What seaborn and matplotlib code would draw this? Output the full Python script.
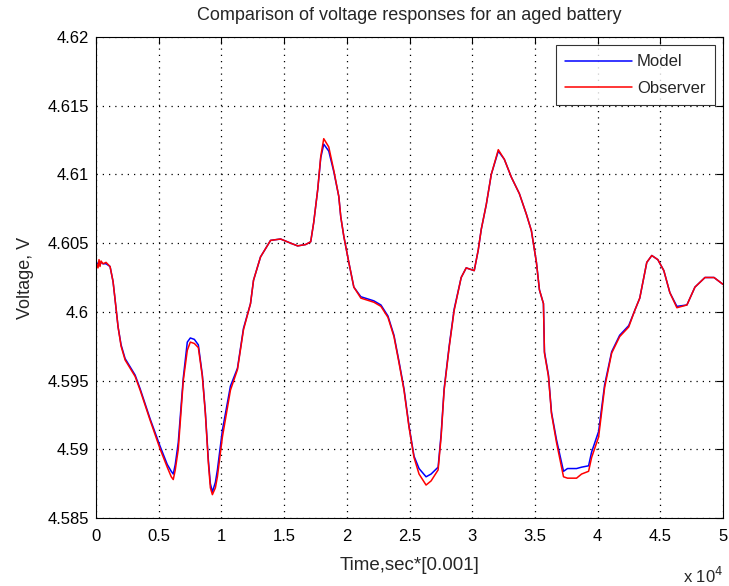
import numpy as np
import pandas as pd
import seaborn as sns
import matplotlib
matplotlib.use("Agg")
import matplotlib.pyplot as plt
from matplotlib.ticker import FuncFormatter, MultipleLocator

# Time in units of 10^4
time_x = [0.000, 0.016, 0.024, 0.032, 0.040, 0.056, 0.080, 0.112, 0.136, 0.152,
          0.176, 0.200, 0.232, 0.272, 0.312, 0.352, 0.432, 0.512, 0.568, 0.600,
          0.616, 0.632, 0.656, 0.696, 0.728, 0.752, 0.784, 0.816, 0.848, 0.872,
          0.896, 0.912, 0.928, 0.952, 0.968, 1.008, 1.072, 1.128, 1.176, 1.232,
          1.256, 1.312, 1.392, 1.472, 1.552, 1.608, 1.672, 1.712, 1.736, 1.768,
          1.792, 1.816, 1.856, 1.896, 1.936, 1.952, 1.976, 2.016, 2.056, 2.112,
          2.216, 2.272, 2.328, 2.376, 2.416, 2.456, 2.496, 2.536, 2.576, 2.632,
          2.672, 2.728, 2.752, 2.776, 2.816, 2.856, 2.912, 2.952, 3.016, 3.048,
          3.072, 3.112, 3.152, 3.208, 3.256, 3.312, 3.376, 3.432, 3.472, 3.512,
          3.536, 3.568, 3.576, 3.608, 3.632, 3.672, 3.728, 3.760, 3.832, 3.872,
          3.928, 3.952, 4.008, 4.056, 4.112, 4.176, 4.248, 4.296, 4.336, 4.392,
          4.432, 4.480, 4.528, 4.576, 4.632, 4.712, 4.776, 4.856, 4.928, 5.000]

observer_v = [4.6036, 4.6032, 4.6038, 4.6033, 4.6037, 4.6035, 4.6036, 4.6033, 4.6022, 4.6009,
              4.5989, 4.5975, 4.5965, 4.5959, 4.5953, 4.5943, 4.5921, 4.5900, 4.5887, 4.5880,
              4.5878, 4.5885, 4.5900, 4.5950, 4.5972, 4.5978, 4.5977, 4.5974, 4.5953, 4.5926,
              4.5890, 4.5872, 4.5867, 4.5872, 4.5880, 4.5909, 4.5943, 4.5958, 4.5987, 4.6006,
              4.6023, 4.6040, 4.6052, 4.6053, 4.6050, 4.6048, 4.6049, 4.6051, 4.6065, 4.6089,
              4.6113, 4.6126, 4.6120, 4.6103, 4.6084, 4.6069, 4.6055, 4.6036, 4.6018, 4.6010,
              4.6007, 4.6004, 4.5996, 4.5982, 4.5963, 4.5943, 4.5916, 4.5894, 4.5882, 4.5874,
              4.5877, 4.5885, 4.5909, 4.5943, 4.5974, 4.6001, 4.6025, 4.6032, 4.6030, 4.6045,
              4.6060, 4.6078, 4.6100, 4.6118, 4.6111, 4.6098, 4.6086, 4.6071, 4.6059, 4.6036,
              4.6016, 4.6006, 4.5970, 4.5953, 4.5926, 4.5905, 4.5880, 4.5879, 4.5879, 4.5882,
              4.5884, 4.5894, 4.5909, 4.5945, 4.5970, 4.5982, 4.5989, 4.6001, 4.6010, 4.6036,
              4.6041, 4.6038, 4.6030, 4.6014, 4.6003, 4.6005, 4.6018, 4.6025, 4.6025, 4.6020]

model_v = [4.6036, 4.6035, 4.6036, 4.6035, 4.6036, 4.6035, 4.6035, 4.6033, 4.6022, 4.6009,
           4.5989, 4.5976, 4.5966, 4.5960, 4.5954, 4.5944, 4.5922, 4.5902, 4.5889, 4.5884,
           4.5882, 4.5889, 4.5905, 4.5952, 4.5978, 4.5981, 4.5980, 4.5976, 4.5954, 4.5927,
           4.5892, 4.5875, 4.5869, 4.5876, 4.5885, 4.5914, 4.5946, 4.5959, 4.5988, 4.6006,
           4.6023, 4.6040, 4.6052, 4.6053, 4.6050, 4.6048, 4.6049, 4.6051, 4.6065, 4.6089,
           4.6112, 4.6122, 4.6117, 4.6102, 4.6084, 4.6069, 4.6055, 4.6036, 4.6018, 4.6011,
           4.6008, 4.6005, 4.5997, 4.5983, 4.5964, 4.5944, 4.5917, 4.5895, 4.5886, 4.5880,
           4.5882, 4.5887, 4.5911, 4.5944, 4.5975, 4.6002, 4.6025, 4.6032, 4.6030, 4.6045,
           4.6060, 4.6078, 4.6100, 4.6117, 4.6111, 4.6098, 4.6086, 4.6071, 4.6059, 4.6036,
           4.6016, 4.6006, 4.5971, 4.5954, 4.5927, 4.5907, 4.5884, 4.5886, 4.5886, 4.5887,
           4.5888, 4.5898, 4.5913, 4.5947, 4.5971, 4.5983, 4.5990, 4.6001, 4.6010, 4.6036,
           4.6041, 4.6038, 4.6030, 4.6014, 4.6004, 4.6005, 4.6018, 4.6025, 4.6025, 4.6020]

series_names = ["Model", "Observer"]
series_colors = ["#0000ff", "#ff0000"]

df = pd.concat([
    pd.DataFrame({"time": time_x, "voltage": model_v, "series": series_names[0]}),
    pd.DataFrame({"time": time_x, "voltage": observer_v, "series": series_names[1]}),
], ignore_index=True)

sns.set_style("white")
plt.rcParams['font.family'] = ['Liberation Sans', 'DejaVu Sans']

fig = plt.figure(figsize=(7.29, 5.86), dpi=100)
ax = fig.add_axes([0.1317, 0.116, 0.8601, 0.8209])

sns.lineplot(data=df, x="time", y="voltage", hue="series",
             palette=dict(zip(series_names, series_colors)),
             sort=False, estimator=None, linewidth=1.1, ax=ax)

ax.set_xlim(0, 5)
ax.set_ylim(4.585, 4.62)
ax.xaxis.set_major_locator(MultipleLocator(0.5))
ax.yaxis.set_major_locator(MultipleLocator(0.005))
fmt = FuncFormatter(lambda v, p: "%g" % round(v, 4))
ax.xaxis.set_major_formatter(fmt)
ax.yaxis.set_major_formatter(fmt)

ax.grid(True, color="black", linestyle=(0, (1, 4)), linewidth=0.9)
ax.tick_params(direction="in", top=True, right=True, length=5, width=0.8,
               labelsize=12, colors="black")
ax.tick_params(axis="x", pad=8)
ax.tick_params(axis="y", pad=5)
for s in ax.spines.values():
    s.set_color("black")
    s.set_linewidth(0.8)

ax.set_title("Comparison of voltage responses for an aged battery", fontsize=13, pad=12)
ax.set_xlabel("Time,sec*[0.001]", fontsize=13.5, labelpad=9)
ax.set_ylabel("Voltage, V", fontsize=13, labelpad=10)

ax.annotate(r"x 10$^{4}$", xy=(1.0, 0.0), xycoords="axes fraction",
            xytext=(0, -58), textcoords="offset pixels",
            ha="right", va="center", fontsize=12)

leg = ax.legend(loc="upper right", fontsize=12, frameon=True, fancybox=False,
                handlelength=4.0, borderaxespad=0.5, borderpad=0.55, labelspacing=0.7,
                handletextpad=0.3)
leg.get_frame().set_edgecolor("black")
leg.get_frame().set_linewidth(0.8)
leg.set_title(None)

fig.savefig("out.png", dpi=100)
